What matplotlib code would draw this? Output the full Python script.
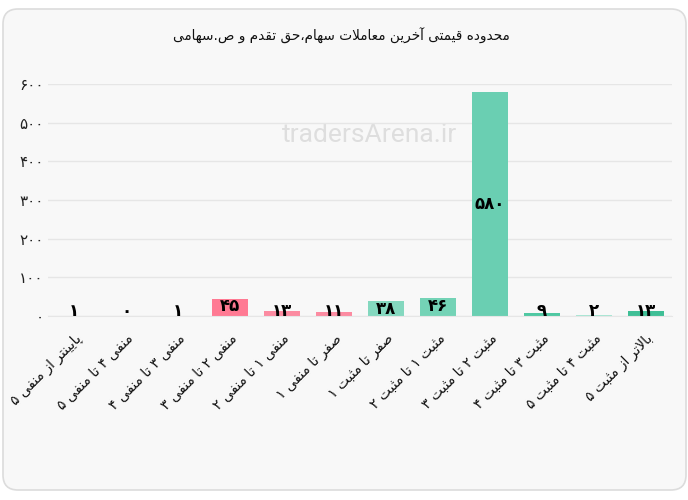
#!/usr/bin/env python3
import re
import numpy as np
import matplotlib
matplotlib.use("Agg")
import matplotlib.pyplot as plt
from matplotlib.patches import FancyBboxPatch

# chart data
title = "محدوده قیمتی آخرین معاملات سهام،حق تقدم و ص.سهامی"
categories = ["پایینتر از منفی ۵", "منفی ۴ تا منفی ۵", "منفی ۳ تا منفی ۴",
              "منفی ۲ تا منفی ۳", "منفی ۱ تا منفی ۲", "صفر تا منفی ۱",
              "صفر تا مثبت ۱", "مثبت ۱ تا مثبت ۲", "مثبت ۲ تا مثبت ۳",
              "مثبت ۳ تا مثبت ۴", "مثبت ۴ تا مثبت ۵", "بالاتر از مثبت ۵"]
values = [1, 0, 1, 45, 13, 11, 38, 46, 580, 9, 2, 13]
bar_colors = ["#f9c3cf", "#f9c3cf", "#f9c3cf", "#ff7a93", "#fc8ba1", "#fc8ba1",
              "#84d8bf", "#74d3b6", "#6acfb2", "#4fc8a2", "#a8e5d3", "#3fbf96"]
yticks = [0, 100, 200, 300, 400, 500, 600]
watermark = "tradersArena.ir"

# isolated, final, initial, medial presentation forms
FORMS = {
    'ا': ('\uFE8D', '\uFE8E', None, None),
    'آ': ('\uFE81', '\uFE82', None, None),
    'ب': ('\uFE8F', '\uFE90', '\uFE91', '\uFE92'),
    'پ': ('\uFB56', '\uFB57', '\uFB58', '\uFB59'),
    'ت': ('\uFE95', '\uFE96', '\uFE97', '\uFE98'),
    'ث': ('\uFE99', '\uFE9A', '\uFE9B', '\uFE9C'),
    'ج': ('\uFE9D', '\uFE9E', '\uFE9F', '\uFEA0'),
    'چ': ('\uFB7A', '\uFB7B', '\uFB7C', '\uFB7D'),
    'ح': ('\uFEA1', '\uFEA2', '\uFEA3', '\uFEA4'),
    'خ': ('\uFEA5', '\uFEA6', '\uFEA7', '\uFEA8'),
    'د': ('\uFEA9', '\uFEAA', None, None),
    'ذ': ('\uFEAB', '\uFEAC', None, None),
    'ر': ('\uFEAD', '\uFEAE', None, None),
    'ز': ('\uFEAF', '\uFEB0', None, None),
    'ژ': ('\uFB8A', '\uFB8B', None, None),
    'س': ('\uFEB1', '\uFEB2', '\uFEB3', '\uFEB4'),
    'ش': ('\uFEB5', '\uFEB6', '\uFEB7', '\uFEB8'),
    'ص': ('\uFEB9', '\uFEBA', '\uFEBB', '\uFEBC'),
    'ض': ('\uFEBD', '\uFEBE', '\uFEBF', '\uFEC0'),
    'ط': ('\uFEC1', '\uFEC2', '\uFEC3', '\uFEC4'),
    'ظ': ('\uFEC5', '\uFEC6', '\uFEC7', '\uFEC8'),
    'ع': ('\uFEC9', '\uFECA', '\uFECB', '\uFECC'),
    'غ': ('\uFECD', '\uFECE', '\uFECF', '\uFED0'),
    'ف': ('\uFED1', '\uFED2', '\uFED3', '\uFED4'),
    'ق': ('\uFED5', '\uFED6', '\uFED7', '\uFED8'),
    'ک': ('\uFB8E', '\uFB8F', '\uFB90', '\uFB91'),
    'گ': ('\uFB92', '\uFB93', '\uFB94', '\uFB95'),
    'ل': ('\uFEDD', '\uFEDE', '\uFEDF', '\uFEE0'),
    'م': ('\uFEE1', '\uFEE2', '\uFEE3', '\uFEE4'),
    'ن': ('\uFEE5', '\uFEE6', '\uFEE7', '\uFEE8'),
    'ه': ('\uFEE9', '\uFEEA', '\uFEEB', '\uFEEC'),
    'و': ('\uFEED', '\uFEEE', None, None),
    'ی': ('\uFBFC', '\uFBFD', '\uFBFE', '\uFBFF'),
}
LAM_ALEF = {'ا': ('\uFEFB', '\uFEFC'), 'آ': ('\uFEF5', '\uFEF6')}


def joins_next(c):
    return c in FORMS and FORMS[c][2] is not None


def shape(s):
    # poor man's arabic shaping + bidi for short persian strings
    out = []
    i = 0
    n = len(s)
    while i < n:
        c = s[i]
        prev = s[i - 1] if i > 0 else ''
        nxt = s[i + 1] if i + 1 < n else ''
        if c not in FORMS:
            out.append(c)
            i += 1
            continue
        conn_prev = joins_next(prev)
        if c == 'ل' and nxt in LAM_ALEF:
            out.append(LAM_ALEF[nxt][1 if conn_prev else 0])
            i += 2
            continue
        conn_next = joins_next(c) and nxt in FORMS
        f = FORMS[c]
        if conn_prev and conn_next:
            out.append(f[3])
        elif conn_prev:
            out.append(f[1])
        elif conn_next:
            out.append(f[2])
        else:
            out.append(f[0])
        i += 1
    vis = ''.join(out)[::-1]
    # digits keep left to right order
    vis = re.sub(r'[0-9\u06F0-\u06F9]+', lambda m: m.group(0)[::-1], vis)
    return vis


def fa_num(v):
    return str(v).translate(str.maketrans('0123456789', '۰۱۲۳۴۵۶۷۸۹'))


if __name__ == "__main__":
    plt.rcParams['font.family'] = ['DejaVu Sans']

    W, H = 688, 500
    fig = plt.figure(figsize=(W / 100, H / 100), dpi=100)
    fig.patch.set_facecolor('white')

    # card background
    card = FancyBboxPatch((3 / 100, 10 / 100), 683 / 100, 481 / 100,
                          boxstyle="round,pad=0,rounding_size=0.15",
                          transform=fig.dpi_scale_trans, facecolor='#f8f8f8',
                          edgecolor='#dcdcdc', linewidth=1.2, zorder=-5)
    fig.patches.append(card)

    ax = fig.add_axes([48 / W, 1 - 316 / H, 624 / W, 232 / H])
    ax.set_zorder(2)
    ax.set_facecolor('none')
    x = np.arange(len(values))
    ax.bar(x, values, width=0.7, color=bar_colors, zorder=2)
    ax.set_xlim(-0.5, len(values) - 0.5)
    ax.set_ylim(0, 600)

    ax.set_yticks(yticks)
    ax.set_yticklabels([fa_num(t) for t in yticks], fontsize=11, color='#222222')
    ax.set_xticks(x)
    ax.set_xticklabels([shape(c) for c in categories], rotation=45, ha='right',
                       va='top', rotation_mode='anchor', fontsize=10,
                       color='#111111')
    ax.tick_params(axis='both', length=0)
    ax.tick_params(axis='x', pad=11)
    ax.tick_params(axis='y', pad=3)
    ax.grid(axis='y', color='#e6e6e6', linewidth=1, zorder=0)
    ax.set_axisbelow(True)
    for s in ['top', 'right', 'left']:
        ax.spines[s].set_visible(False)
    ax.spines['bottom'].set_color('#e6e6e6')

    # value labels
    for xi, v in zip(x, values):
        if v > 200:
            ax.annotate(fa_num(v), (xi, v / 2), ha='center', va='center',
                        fontsize=12, fontweight='bold', color='black', zorder=3)
        elif v > 30:
            ax.annotate(fa_num(v), (xi, v), xytext=(0, 1),
                        textcoords='offset points', ha='center', va='top',
                        fontsize=12, fontweight='bold', color='black', zorder=3)
        else:
            ax.annotate(fa_num(v), (xi, 0), xytext=(0, -3),
                        textcoords='offset points', ha='center', va='bottom',
                        fontsize=12, fontweight='bold', color='black', zorder=3)

    fig.text(510 / W, 1 - 36 / H, shape(title), ha='right', va='center',
             fontsize=9.8, color='#111111')
    fig.text(370 / W, 1 - 135 / H, watermark, ha='center', va='center',
             fontsize=19, color='#dedede', family='Roboto', zorder=1)

    fig.savefig("out.png", dpi=100, facecolor=fig.get_facecolor())
